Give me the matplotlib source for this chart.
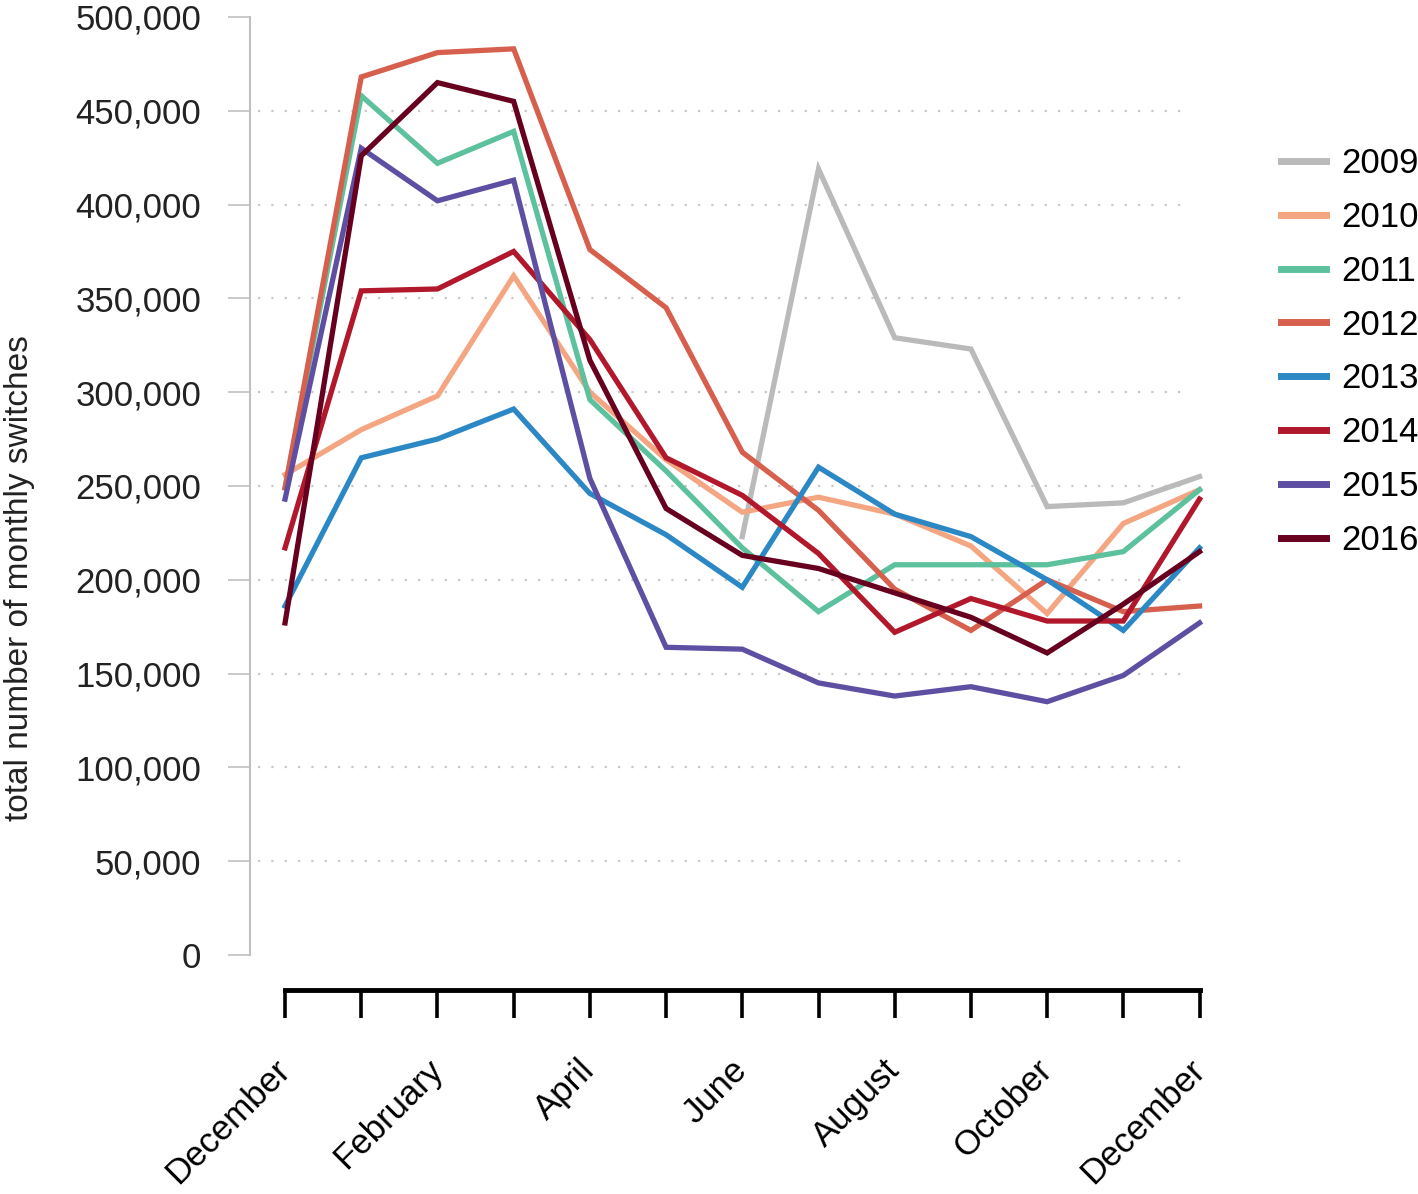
import numpy as np
import matplotlib.pyplot as plt
from matplotlib.ticker import FuncFormatter

plt.rcParams['font.family'] = ['Liberation Sans', 'DejaVu Sans']

months = ["December", "January", "February", "March", "April", "May", "June",
          "July", "August", "September", "October", "November", "December"]
years = ["2009", "2010", "2011", "2012", "2013", "2014", "2015", "2016"]
colors = ["#bababa", "#f4a582", "#5cc19c", "#d6604d", "#2b88c4", "#b2182b", "#5e4fa2", "#67001f"]

# monthly switches, Dec (prev year) .. Dec; None where no data
s2009 = [None, None, None, None, None, None, 223000, 419000, 329000, 323000, 239000, 241000, 255000]
s2010 = [256000, 280000, 298000, 362000, 300000, 264000, 236000, 244000, 235000, 218000, 182000, 230000, 248000]
s2011 = [249000, 458000, 422000, 439000, 296000, 258000, 217000, 183000, 208000, 208000, 208000, 215000, 248000]
s2012 = [249000, 468000, 481000, 483000, 376000, 345000, 268000, 237000, 195000, 173000, 200000, 183000, 186000]
s2013 = [186000, 265000, 275000, 291000, 246000, 224000, 196000, 260000, 235000, 223000, 200000, 173000, 217000]
s2014 = [217000, 354000, 355000, 375000, 328000, 265000, 245000, 214000, 172000, 190000, 178000, 178000, 243000]
s2015 = [243000, 430000, 402000, 413000, 254000, 164000, 163000, 145000, 138000, 143000, 135000, 149000, 177000]
s2016 = [177000, 426000, 465000, 455000, 317000, 238000, 213000, 206000, 193000, 180000, 161000, 187000, 215000]
series = [s2009, s2010, s2011, s2012, s2013, s2014, s2015, s2016]

yticks = np.arange(0, 500001, 50000)


def main():
    fig = plt.figure(figsize=(14.18, 11.94), dpi=100)
    ax = fig.add_axes([0.1763, 0.2002, 0.854 - 0.1763, 0.9858 - 0.2002])
    x = np.arange(len(months))

    # dotted gridlines
    ax.hlines(yticks[1:-1], -0.35, 11.87, colors="#c8c8c8", linestyles=(0, (1, 5)), linewidth=1.6, zorder=0)

    for name, vals, c in zip(years, series, colors):
        y = np.array([np.nan if v is None else v for v in vals], dtype=float)
        ax.plot(x, y, color=c, linewidth=3.8, label=name, clip_on=False, solid_joinstyle="miter")

    ax.set_xlim(-0.46, 12.15)
    ax.set_ylim(0, 500000)

    ax.spines["top"].set_visible(False)
    ax.spines["right"].set_visible(False)
    ax.spines["left"].set_color("#c0c0c0")
    ax.spines["left"].set_linewidth(1.5)
    ax.spines["bottom"].set_position(("outward", 25))
    ax.spines["bottom"].set_bounds(0, 12)
    ax.spines["bottom"].set_linewidth(3.5)
    ax.spines["bottom"].set_capstyle("projecting")

    ax.set_yticks(yticks)
    ax.yaxis.set_major_formatter(FuncFormatter(lambda v, p: f"{int(v):,}"))
    ax.tick_params(axis="y", length=16, width=1.2, color="#c0c0c0", labelsize=25, pad=19, labelcolor="#222222")

    ax.set_xticks(x)
    ax.set_xticklabels([m if i % 2 == 0 else "" for i, m in enumerate(months)])
    ax.tick_params(axis="x", length=20, width=2.6, color="black", labelsize=25, pad=34)
    for lbl in ax.get_xticklabels():
        lbl.set_rotation(45)
        lbl.set_ha("right")
        lbl.set_va("center")
        lbl.set_rotation_mode("anchor")

    ax.set_ylabel("total number of monthly switches", fontsize=24, color="#222222")
    ax.yaxis.set_label_coords(-0.224, 0.402)

    leg = fig.legend(loc="upper left", bbox_to_anchor=(0.881, 0.903), frameon=False,
                     fontsize=25, handlelength=1.3, handletextpad=0.46, labelspacing=0.6)
    for h in leg.get_lines():
        h.set_linewidth(5)

    fig.savefig("out.png", dpi=100)


if __name__ == "__main__":
    main()
